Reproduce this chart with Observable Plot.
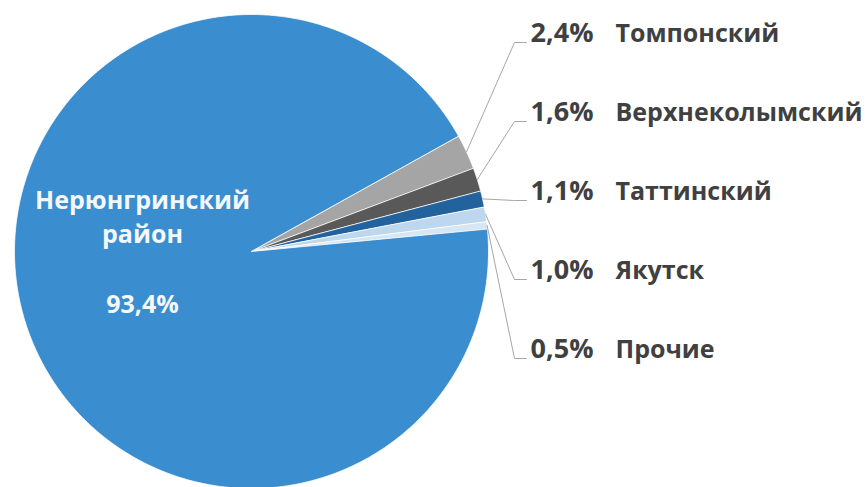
<!DOCTYPE html>
<html><head><meta charset="utf-8">
<script src="https://cdn.jsdelivr.net/npm/d3@7"></script>
<script src="https://cdn.jsdelivr.net/npm/@observablehq/plot@0.6"></script>
<style>body{margin:0;background:#fff;overflow:hidden}</style>
</head><body><div id="chart"></div>
<script>
// ---- data ----
const categories = ["Томпонский", "Верхнеколымский", "Таттинский", "Якутск", "Прочие", "Нерюнгринский район"];
const shares = [2.4, 1.6, 1.1, 1.0, 0.5, 93.4];
const shareLabels = ["2,4%", "1,6%", "1,1%", "1,0%", "0,5%", "93,4%"];
const colors = ["#A5A5A5", "#595959", "#22639E", "#BDD7EE", "#D6E6F5", "#3A8DCE"];

// ---- layout ----
const W = 867, H = 487, CX = 251, CY = 251, R = 237;
const startDeg = 60.8;
const rowTop = 33, rowStep = 79, kneeX = 514, lineEndX = 526, pctRightX = 593, nameX = 615;
const ux = px => (px - CX) / R;
const uy = py => (CY - py) / R;

const a0 = startDeg * Math.PI / 180;
const arcs = d3.pie().sort(null).value(d => d).startAngle(a0).endAngle(a0 + 2 * Math.PI)(shares);

const slicePts = [];
arcs.forEach((a, i) => {
  const n = Math.max(2, Math.ceil((a.endAngle - a.startAngle) / 0.01));
  slicePts.push({name: categories[i], x: 0, y: 0});
  for (let k = 0; k <= n; k++) {
    const t = a.startAngle + (a.endAngle - a.startAngle) * k / n;
    slicePts.push({name: categories[i], x: Math.sin(t), y: Math.cos(t)});
  }
});

const leaders = [];
const outLabels = [];
arcs.slice(0, 5).forEach((a, i) => {
  const m = (a.startAngle + a.endAngle) / 2;
  const row = rowTop + rowStep * i;
  const ly = row + 9;
  leaders.push({name: categories[i], x: Math.sin(m), y: Math.cos(m)});
  leaders.push({name: categories[i], x: ux(kneeX), y: uy(ly)});
  leaders.push({name: categories[i], x: ux(lineEndX), y: uy(ly)});
  outLabels.push({pct: shareLabels[i], name: categories[i], y: uy(row)});
});

const inner = [{text: categories[5].split(" ").join("\n") + "\n\n" + shareLabels[5], x: ux(142), y: uy(249)}];

const chart = Plot.plot({
  width: W, height: H, margin: 0,
  style: {fontFamily: "Open Sans", background: "#fff"},
  x: {domain: [ux(0), ux(W)], axis: null},
  y: {domain: [uy(H), uy(0)], axis: null},
  color: {domain: categories, range: colors},
  marks: [
    Plot.line(slicePts, {x: "x", y: "y", z: "name", fill: "name", stroke: "#fff", strokeWidth: 0.8, curve: "linear-closed"}),
    Plot.line(leaders, {x: "x", y: "y", z: "name", stroke: "#A6A6A6", strokeWidth: 1, curve: "linear"}),
    Plot.text(outLabels, {x: ux(pctRightX), y: "y", text: "pct", textAnchor: "end", fontSize: 27, fontWeight: "bold", fill: "#404040"}),
    Plot.text(outLabels, {x: ux(nameX), y: "y", text: "name", textAnchor: "start", fontSize: 25, fontWeight: "bold", fill: "#404040"}),
    Plot.text(inner, {x: "x", y: "y", text: "text", lineHeight: 1.39, lineAnchor: "middle", fontSize: 25, fontWeight: "bold", fill: "#F3F8FC"})
  ]
});
document.getElementById("chart").appendChild(chart);
</script>
</body></html>
